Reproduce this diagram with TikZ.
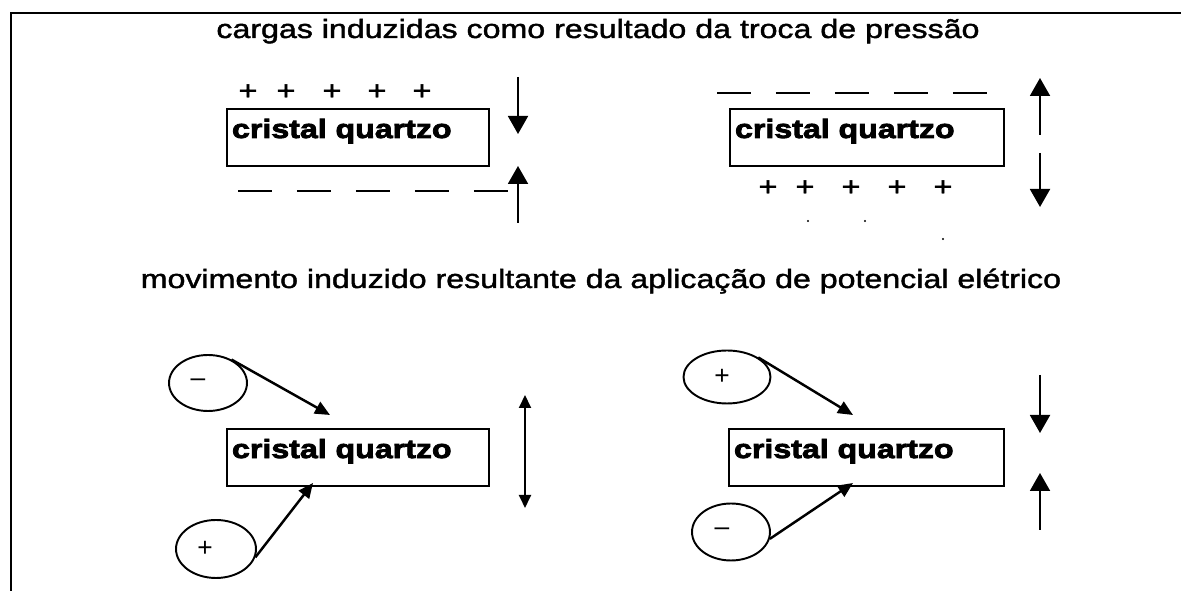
\documentclass[tikz,border=0pt]{standalone}
\usepackage{fontspec}
\setmainfont{Liberation Sans}[FakeStretch=1.22, FakeBold=1.6, BoldFeatures={FakeBold=3}]
\newfontfamily\sinalfont{Liberation Sans}
\usetikzlibrary{positioning, shapes.geometric, arrows.meta}
\tikzset{
    cristal/.style={ % kasten fuer den kristall
        draw, line width=1.2pt,
        font=\fontsize{15}{18}\selectfont\bfseries,
        text width=#1, align=left,
        inner xsep=0.1cm, inner ysep=0pt,
        text height=0.58cm, text depth=0.56cm
    },
    cristal/.default=5.04cm,
    titel/.style={font=\fontsize{15}{18}\selectfont, anchor=base},
    carga/.style={font=\fontsize{15}{18}\selectfont, inner sep=0pt},
    polo/.style={ % ellipse mit vorzeichen
        draw, ellipse, line width=1.1pt,
        minimum width=#1, minimum height=1.12cm, inner sep=0pt
    },
    polo/.default=1.56cm,
    sinal/.style={font=\sinalfont\fontsize{15}{17}\selectfont, inner sep=0pt},
    negativo/.style={draw, line width=1.1pt, dash pattern=on 0.68cm off 0.5cm},
    kraft/.style={draw, line width=1.1pt, -{Triangle[length=0.36cm, width=0.4cm]}},
    zug/.style={draw, line width=1.4pt, -{Triangle[length=0.3cm, width=0.26cm]}},
    bewegung/.style={draw, line width=1.1pt,
        {Triangle[length=0.26cm, width=0.24cm]}-{Triangle[length=0.26cm, width=0.24cm]}}
}
\begin{document}
\begin{tikzpicture}[x=0.02cm, y=0.02cm]
    \useasboundingbox (0,0) rectangle (1181,591);
    \draw[line width=1.2pt] (11,0) |- (1181,578);

    % obere haelfte
    \node[titel]                            (t1)    at (598,553) {cargas induzidas como resultado da troca de pressão};
    \node[cristal]                          (cq1)   at (358,453.5) {cristal quartzo};
    \node[cristal=5.28cm, right=4.78cm of cq1] (cq2)  {cristal quartzo};

    \foreach \x [count=\i] in {248,286,332,377,422}
        \node[carga] (pa\i) at (\x,499) {+};
    \foreach \x [count=\i] in {768,805,851,897,943}
        \node[carga] (pb\i) at (\x,403) {+};
    \coordinate (na1) at (238,400); \coordinate (na2) at (508,400);
    \coordinate (nb1) at (717,498); \coordinate (nb2) at (987,498);
    \draw[negativo] (na1) -- (na2);
    \draw[negativo] (nb1) -- (nb2);

    \coordinate (ka1) at (518,514); \coordinate (ka2) at (518,457);
    \coordinate (ka3) at (518,368); \coordinate (ka4) at (518,425);
    \coordinate (kb1) at (1040,456); \coordinate (kb2) at (1040,513);
    \coordinate (kb3) at (1040,438); \coordinate (kb4) at (1040,384);
    \draw[kraft] (ka1) -- (ka2);
    \draw[kraft] (ka3) -- (ka4);
    \draw[kraft] (kb1) -- (kb2);
    \draw[kraft] (kb3) -- (kb4);

    \fill (808,370) circle (1.2);
    \fill (865,370) circle (1.2);
    \fill (943,352) circle (1.2);

    % untere haelfte
    \node[titel]                            (t2)    at (601,303) {movimento induzido resultante da aplicação de potencial elétrico};
    \node[cristal, below=5.22cm of cq1]     (cq3)   {cristal quartzo};
    \node[cristal=5.3cm, right=4.76cm of cq3] (cq4) {cristal quartzo};

    \node[polo, label={[sinal, xshift=-0.2cm]center:–}]                          (m1) at (208,208) {};
    \node[polo=1.6cm, minimum height=1.16cm, label={[sinal, xshift=-0.22cm]center:+}] (p1) at (216,42) {};
    \node[polo=1.74cm, minimum height=1.06cm, label={[sinal, xshift=-0.1cm]center:+}] (p2) at (727,214) {};
    \node[polo, minimum height=1.14cm, label={[sinal, xshift=-0.18cm]center:–}]  (m2) at (731,59) {};

    \coordinate (z1) at (330,176); \coordinate (z2) at (313,108);
    \coordinate (z3) at (853,176); \coordinate (z4) at (853,108);
    \draw[zug] (m1.45)  -- (z1);
    \draw[zug] (p1.-12) -- (z2);
    \draw[zug] (p2.32)  -- (z3);
    \draw[zug] (m2.-10) -- (z4);

    \coordinate (b1) at (525,196); \coordinate (b2) at (525,83);
    \draw[bewegung] (b1) -- (b2);
    \coordinate (kc1) at (1040,216); \coordinate (kc2) at (1040,158);
    \coordinate (kc3) at (1040,61);  \coordinate (kc4) at (1040,118);
    \draw[kraft] (kc1) -- (kc2);
    \draw[kraft] (kc3) -- (kc4);
\end{tikzpicture}
\end{document}
